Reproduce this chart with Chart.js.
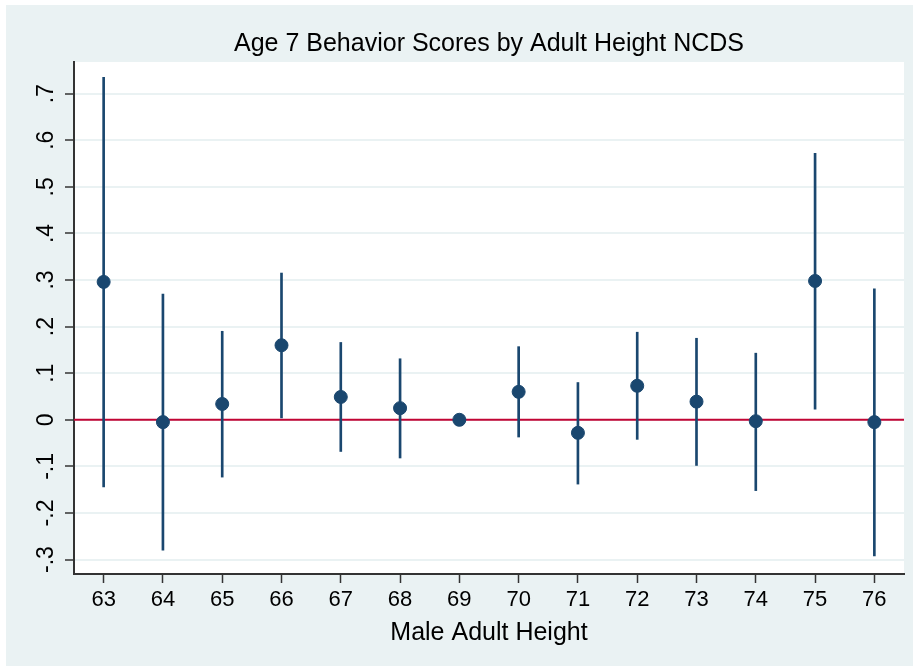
<!DOCTYPE html>
<html>
<head>
<meta charset="utf-8">
<script src="https://cdn.jsdelivr.net/npm/chart.js@4.4.0/dist/chart.umd.min.js"></script>
<style>
    body { margin: 0; background: #ffffff; }
    #wrap { position: absolute; left: 6px; top: 5px; width: 907px; height: 661px; background: #eaf2f3; }
</style>
</head>
<body>
<div id="wrap"><canvas id="hinh" width="907" height="661"></canvas></div>
<script>
// du lieu doc tu hinh
var heights = [63, 64, 65, 66, 67, 68, 69, 70, 71, 72, 73, 74, 75, 76];
var coef = [0.296, -0.005, 0.034, 0.160, 0.049, 0.025, 0, 0.060, -0.028, 0.073, 0.039, -0.003, 0.298, -0.005];
var ciLow = [-0.144, -0.280, -0.123, 0.004, -0.068, -0.082, null, -0.037, -0.138, -0.042, -0.098, -0.152, 0.023, -0.292];
var ciHigh = [0.735, 0.270, 0.190, 0.315, 0.166, 0.131, null, 0.157, 0.080, 0.188, 0.175, 0.143, 0.572, 0.281];
var yTicks = [-0.3, -0.2, -0.1, 0, 0.1, 0.2, 0.3, 0.4, 0.5, 0.6, 0.7];
var xTicks = heights;

var NAVY = '#1a476f';

var _diem = heights.map(function (h, i) { return { x: h, y: coef[i] }; });
var _khoang = [];
heights.forEach(function (h, i) {
    if (ciLow[i] !== null) _khoang.push({ x: h, y: [ciLow[i], ciHigh[i]] });
});

function nhanY(v) {
    if (Math.abs(v) < 1e-9) return '0';
    return v.toFixed(1).replace('0.', '.');
}

// nen trang cho vung ve + duong 0 mau do
var nenPlugin = {
    id: 'nen',
    beforeDraw: function (chart) {
        var a = chart.chartArea, c = chart.ctx;
        c.save();
        c.fillStyle = '#ffffff';
        c.fillRect(a.left, a.top, a.right - a.left, a.bottom - a.top);
        c.restore();
    },
    beforeDatasetsDraw: function (chart) {
        var a = chart.chartArea, c = chart.ctx;
        var y0 = chart.scales.y.getPixelForValue(0);
        c.save();
        c.strokeStyle = '#c10534';
        c.lineWidth = 2;
        c.beginPath();
        c.moveTo(a.left, y0);
        c.lineTo(a.right, y0);
        c.stroke();
        c.restore();
    }
};

var ctx = document.getElementById('hinh').getContext('2d');
var _myChart = new Chart(ctx, {
    type: 'scatter',
    data: {
        datasets: [{
            type: 'scatter',
            data: _diem,
            backgroundColor: NAVY,
            borderColor: NAVY,
            pointRadius: 6.5,
            pointHoverRadius: 6.5,
            order: 0
        }, {
            type: 'bar',
            data: _khoang,
            backgroundColor: NAVY,
            borderWidth: 0,
            barThickness: 2,
            order: 1
        }]
    },
    options: {
        responsive: false,
        animation: false,
        devicePixelRatio: 1,
        layout: { padding: { top: 0, right: 9, bottom: 0, left: 0 } },
        plugins: {
            legend: { display: false },
            tooltip: { enabled: false },
            title: {
                display: true,
                fullSize: false,
                text: 'Age 7 Behavior Scores by Adult Height NCDS',
                color: '#000000',
                font: { family: 'Liberation Sans, Arial, sans-serif', size: 25, weight: 'normal' },
                padding: { top: 24, bottom: 3 }
            }
        },
        scales: {
            x: {
                type: 'linear',
                min: 62.5,
                max: 76.5,
                offset: false,
                afterBuildTicks: function (s) { s.ticks = xTicks.map(function (v) { return { value: v }; }); },
                afterFit: function (s) { s.height = 92; },
                grid: { drawOnChartArea: false, offset: false, tickLength: 9, tickColor: '#333333', tickWidth: 1.5 },
                border: { color: '#333333', width: 2 },
                ticks: {
                    color: '#000000',
                    padding: 4,
                    maxRotation: 0,
                    font: { family: 'Liberation Sans, Arial, sans-serif', size: 22 },
                    callback: function (v) { return String(v); }
                },
                title: {
                    display: true,
                    text: 'Male Adult Height',
                    color: '#000000',
                    font: { family: 'Liberation Sans, Arial, sans-serif', size: 25 },
                    padding: { top: 0, bottom: 18 }
                }
            },
            y: {
                min: -0.331,
                max: 0.768,
                afterBuildTicks: function (s) { s.ticks = yTicks.map(function (v) { return { value: v }; }); },
                afterFit: function (s) { s.width = 68; },
                grid: { color: '#eaf2f3', lineWidth: 2, tickLength: 9, tickColor: '#333333', tickWidth: 1.5 },
                border: { color: '#333333', width: 2 },
                ticks: {
                    color: '#000000',
                    padding: 5,
                    minRotation: 90,
                    maxRotation: 90,
                    crossAlign: 'center',
                    font: { family: 'Liberation Sans, Arial, sans-serif', size: 23 },
                    callback: function (v) { return nhanY(v); }
                }
            }
        }
    },
    plugins: [nenPlugin]
});
</script>
</body>
</html>
